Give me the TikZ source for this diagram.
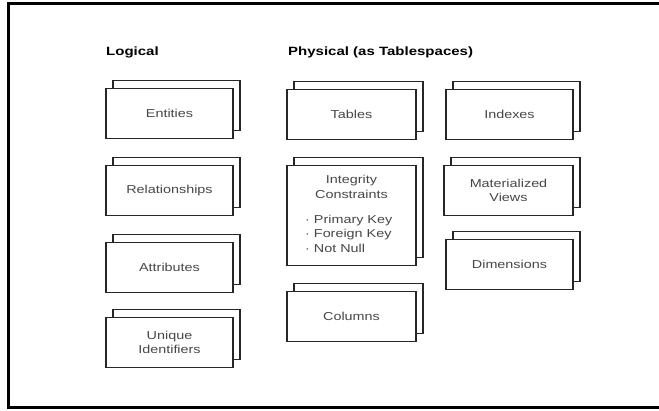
\documentclass[tikz,border=0pt]{standalone}
\usepackage{fontspec}
\setmainfont{Liberation Sans}[FakeStretch=1.25]
\usetikzlibrary{shadows}
\begin{document}
\begin{tikzpicture}[x=1pt,y=-1pt,
  objbox/.style={draw=black!85, line width=1.5pt, fill=white,
    minimum width=127pt, minimum height=50pt, inner sep=2pt, align=center,
    text=black!72, font=\fontsize{11.5}{14.5}\selectfont,
    general shadow={fill=white, draw=black!85, line width=1.5pt,
      shadow xshift=7pt, shadow yshift=8pt}},
  heading/.style={anchor=west, inner sep=0pt,
    font=\bfseries\fontsize{12}{14}\selectfont},
  boxtext/.style={inner sep=0pt, text=black!72,
    font=\fontsize{11.5}{14.5}\selectfont}]
\useasboundingbox (0,0) rectangle (659,411);
\fill[white] (0,0) rectangle (659,411);
% outer frame, open on the right
\draw[line width=3pt] (662,4) -- (8,4) -- (8,408) -- (662,408);

% column headings
\node[heading] (logical) at (106,52) {Logical};
\node[heading] (physical) at (288,52) {Physical (as Tablespaces)};

% logical objects
\node[objbox] (entities) at (169.5,113.5) {Entities};
\node[objbox] (relationships) at (169.5,190.5) {Relationships};
\node[objbox] (attributes) at (169.5,267.5) {Attributes};
\node[objbox] (uniqueids) at (169.5,342.5) {Unique\\Identifiers};

% physical objects
\node[objbox, minimum width=129pt] (tables) at (351.5,114.5) {Tables};
\node[objbox, minimum width=129pt, minimum height=100pt] (integrity) at (351.5,215.5) {};
\node[boxtext, align=center] (integritytitle) at (351.5,187) {Integrity\\Constraints};
\node[boxtext, align=left, anchor=west] (integritylist) at (305,233.5)
  {· Primary Key\\· Foreign Key\\· Not Null};
\node[objbox, minimum width=129pt] (columns) at (351.5,316.5) {Columns};

\node[objbox] (indexes) at (509.5,114.5) {Indexes};
\node[objbox, minimum width=129pt] (matviews) at (508.5,190.5) {Materialized\\Views};
\node[objbox] (dimensions) at (509.5,264.5) {Dimensions};
\end{tikzpicture}
\end{document}
